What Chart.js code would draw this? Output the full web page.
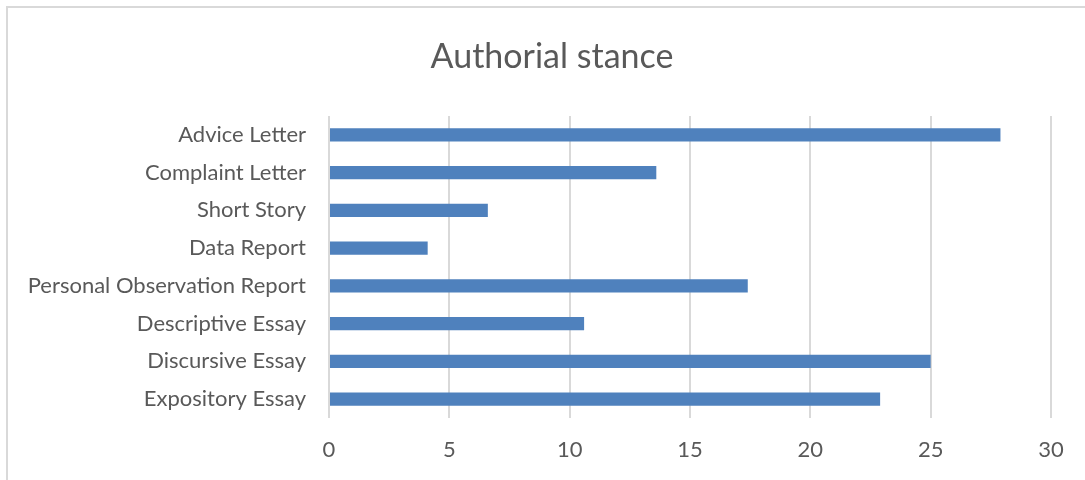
<!DOCTYPE html>
<html>
<head>
<meta charset="utf-8">
<script src="https://cdn.jsdelivr.net/npm/chart.js@4/dist/chart.umd.min.js"></script>
<style>
  html, body { margin: 0; padding: 0; width: 1085px; height: 480px; overflow: hidden; background: #ffffff; }
  #frame { position: absolute; left: 6px; top: 6px; width: 1200px; height: 600px; border: 2px solid #d9d9d9; box-sizing: border-box; }
  #wrap { position: absolute; left: 0; top: 0; width: 1085px; height: 480px; }
</style>
</head>
<body>
<div id="frame"></div>
<div id="wrap"><canvas id="chart" width="1085" height="480"></canvas></div>
<script>
// Genre categories, listed top to bottom
const categories = [
  'Advice Letter',
  'Complaint Letter',
  'Short Story',
  'Data Report',
  'Personal Observation Report',
  'Descriptive Essay',
  'Discursive Essay',
  'Expository Essay'
];
// Authorial stance counts per genre
const stanceValues = [27.9, 13.6, 6.6, 4.1, 17.4, 10.6, 25.0, 22.9];
// Value axis ticks
const xTicks = [0, 5, 10, 15, 20, 25, 30];
const chartTitle = 'Authorial stance';

const textColor = '#595959';
const fontFamily = 'Lato, "Open Sans", "Liberation Sans", sans-serif';

// Title centred over the framed area rather than the canvas
const centeredTitle = {
  id: 'centeredTitle',
  afterDraw(chart) {
    const ctx = chart.ctx;
    ctx.save();
    ctx.fillStyle = textColor;
    ctx.font = '34px ' + fontFamily;
    ctx.textAlign = 'center';
    ctx.textBaseline = 'middle';
    ctx.fillText(chartTitle, 552, 57);
    ctx.restore();
  }
};

new Chart(document.getElementById('chart'), {
  type: 'bar',
  data: {
    labels: categories,
    datasets: [{
      label: chartTitle,
      data: stanceValues,
      backgroundColor: '#4f81bd',
      borderWidth: 0,
      barPercentage: 0.345,
      categoryPercentage: 1.0
    }]
  },
  options: {
    indexAxis: 'y',
    responsive: false,
    animation: false,
    layout: { padding: { left: 15, right: 34, top: 116, bottom: 0 } },
    plugins: {
      legend: { display: false },
      tooltip: { enabled: false },
      title: { display: false }
    },
    scales: {
      x: {
        min: xTicks[0],
        max: xTicks[xTicks.length - 1],
        afterBuildTicks: (scale) => { scale.ticks = xTicks.map(v => ({ value: v })); },
        afterFit: (scale) => { scale.height = 62; },
        border: { display: false },
        grid: { color: '#d9d9d9', lineWidth: 2, drawTicks: false },
        ticks: {
          color: textColor,
          padding: 19,
          font: { family: fontFamily, size: 22, lineHeight: 1.2 }
        }
      },
      y: {
        afterFit: (scale) => { scale.width = 314; },
        border: { display: false },
        grid: { display: false, drawTicks: false },
        ticks: {
          color: textColor,
          padding: 23,
          autoSkip: false,
          font: { family: fontFamily, size: 22, lineHeight: 1.2 }
        }
      }
    }
  },
  plugins: [centeredTitle]
});
</script>
</body>
</html>
